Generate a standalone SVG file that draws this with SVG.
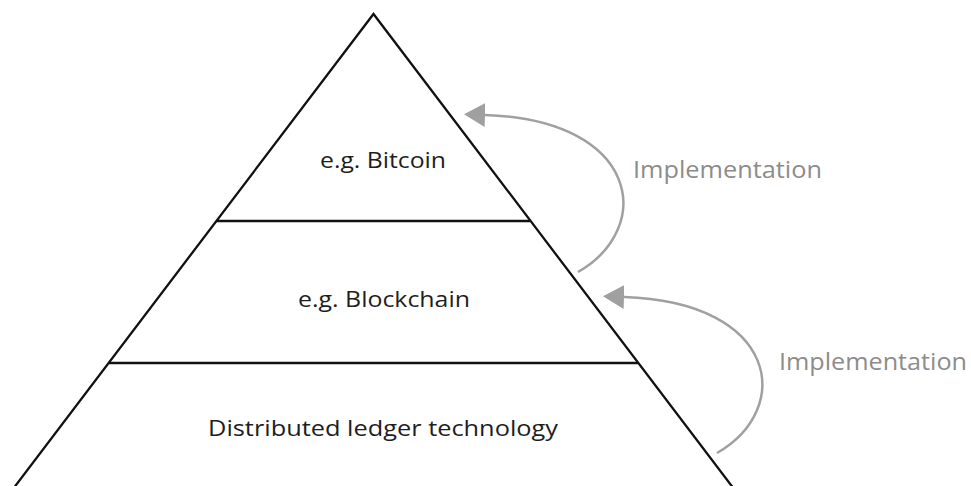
<svg xmlns="http://www.w3.org/2000/svg" width="971" height="486" viewBox="0 0 971 486">
<defs>
<style>
.edge{fill:none;stroke:#111;stroke-width:2.3;stroke-linejoin:miter}
.tier{stroke:#111;stroke-width:2.5}
.lbl{font-family:"Open Sans","Liberation Sans",sans-serif;font-size:21.5px;fill:#1e1e1e}
.impl{font-family:"Open Sans","Liberation Sans",sans-serif;font-size:23.5px;fill:#8c8c8c}
.arc{fill:none;stroke:#a0a0a0;stroke-width:2.5}
</style>
<marker id="ah" markerUnits="userSpaceOnUse" viewBox="0 0 21 24" refX="0" refY="12" markerWidth="21" markerHeight="24" orient="auto">
<path d="M0,0 L21,12 L0,24 z" fill="#a0a0a0"/>
</marker>
</defs>
<rect width="971" height="486" fill="#fff"/>
<g id="pyramid">
<polyline class="edge" points="13,489 373.5,14 734,489"/>
</g>
<g id="tier-top">
<line class="tier" x1="216" y1="221" x2="530" y2="221"/>
<text class="lbl" x="320" y="168" textLength="126" lengthAdjust="spacingAndGlyphs">e.g. Bitcoin</text>
</g>
<g id="tier-middle">
<line class="tier" x1="109" y1="363" x2="638" y2="363"/>
<text class="lbl" x="298" y="307" textLength="172" lengthAdjust="spacingAndGlyphs">e.g. Blockchain</text>
</g>
<g id="tier-bottom">
<text class="lbl" x="208" y="436" textLength="350" lengthAdjust="spacingAndGlyphs">Distributed ledger technology</text>
</g>
<g id="connectors">
<path class="arc" d="M578,272 C655,228 640,120 485,115" marker-end="url(#ah)"/>
<path class="arc" d="M717,453 C794,409 779,302 624,297" marker-end="url(#ah)"/>
</g>
<g id="label-impl-1">
<text class="impl" x="633" y="178" textLength="189" lengthAdjust="spacingAndGlyphs">Implementation</text>
</g>
<g id="label-impl-2">
<text class="impl" x="779" y="370" textLength="188" lengthAdjust="spacingAndGlyphs">Implementation</text>
</g>
</svg>
